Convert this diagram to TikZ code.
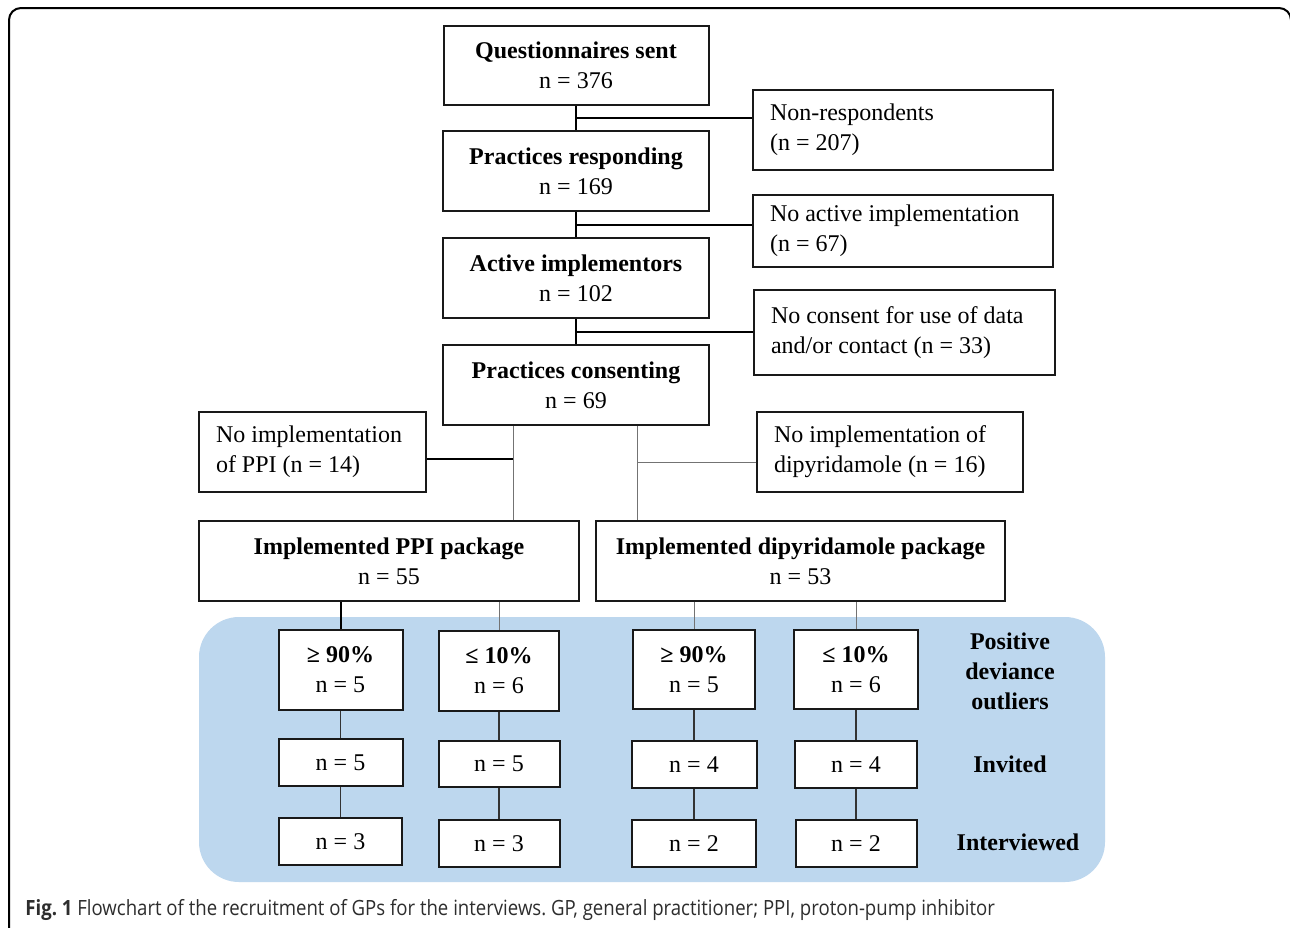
\documentclass[tikz,border=0pt]{standalone}
\usepackage{fontspec}
\setmainfont{Liberation Serif}
\newfontfamily\captionfont[FakeStretch=0.885]{Open Sans}
\usetikzlibrary{calc}

\definecolor{panelblue}{RGB}{189,215,238}
\definecolor{captiongray}{RGB}{45,45,45}

\tikzset{
  box/.style={rectangle, draw=black!90, line width=1pt, fill=white, inner sep=0pt,
    align=center, font=\fontsize{12}{15}\selectfont},
  sidebox/.style={box, align=flush left, inner xsep=8.5pt},
  label/.style={align=center, font=\fontsize{12}{15}\selectfont\bfseries, inner sep=0pt},
  link/.style={line width=1pt},
  thinlink/.style={line width=0.5pt, draw=black!55},
  panellink/.style={line width=0.6pt, draw=black!80},
}

\begin{document}
\begin{tikzpicture}[x=0.5pt, y=-0.5pt]
        \useasboundingbox (0,0) rectangle (1290,927);
        \fill[white] (0,0) rectangle (1290,927);
        \draw[line width=1pt, rounded corners=6pt] (9,960) -- (9,8) -- (1291,8) -- (1291,960);

        % main column
        \node[box, minimum width=132.5pt, minimum height=39.5pt] (questionnaires) at(576,65.5){\textbf{Questionnaires sent}\\n = 376};
        \node[box, minimum width=133pt, minimum height=40pt] (practices-responding) at(576,171){\textbf{Practices responding}\\n = 169};
        \node[box, minimum width=133pt, minimum height=40pt] (active-implementors) at(576,278){\textbf{Active implementors}\\n = 102};
        \node[box, minimum width=133pt, minimum height=40pt] (practices-consenting) at(576,385){\textbf{Practices consenting}\\n = 69};

        % excluded
        \node[sidebox, text width=133pt, minimum height=40pt] (non-respondents) at(903,130){Non-respondents\\(n = 207)};
        \node[sidebox, text width=133pt, minimum height=36pt] (no-active) at(903,231){No active implementation\\(n = 67)};
        \node[sidebox, text width=133.5pt, minimum height=42.5pt] (no-consent) at(904.5,332.5){No consent for use of data\\and/or contact (n = 33)};
        \node[sidebox, text width=96.5pt, minimum height=40pt] (no-ppi) at(312.5,452){No implementation\\of PPI (n = 14)};
        \node[sidebox, text width=116pt, minimum height=40pt] (no-dip) at(890,452){No implementation of\\dipyridamole (n = 16)};

        % packages
        \node[box, minimum width=190pt, minimum height=40pt] (ppi-package) at(389,561){\textbf{Implemented PPI package}\\n = 55};
        \node[box, minimum width=204.5pt, minimum height=40pt] (dip-package) at(800.5,561){\textbf{Implemented dipyridamole package}\\n = 53};

        \fill[panelblue, rounded corners=20pt] (199,617) rectangle (1105,882);

        % outliers
        \node[box, minimum width=62pt, minimum height=40pt] (ppi-high) at(340.5,670){\textbf{≥ 90\%}\\n = 5};
        \node[box, minimum width=62pt, minimum height=23.5pt] (ppi-high-invited) at(340.5,762.5){n = 5};
        \node[box, minimum width=61.5pt, minimum height=23.5pt] (ppi-high-interviewed) at(340.5,841.5){n = 3};

        \node[box, minimum width=60pt, minimum height=40pt] (ppi-low) at(499,671){\textbf{≤ 10\%}\\n = 6};
        \node[box, minimum width=60.5pt, minimum height=23pt] (ppi-low-invited) at(499,764){n = 5};
        \node[box, minimum width=60.5pt, minimum height=23.5pt] (ppi-low-interviewed) at(499,843.5){n = 3};

        \node[box, minimum width=61pt, minimum height=39.5pt] (dip-high) at(694,669.5){\textbf{≥ 90\%}\\n = 5};
        \node[box, minimum width=62.5pt, minimum height=23.5pt] (dip-high-invited) at(694,764.5){n = 4};
        \node[box, minimum width=62pt, minimum height=23.5pt] (dip-high-interviewed) at(694,843.5){n = 2};

        \node[box, minimum width=62pt, minimum height=39.5pt] (dip-low) at(856,669.5){\textbf{≤ 10\%}\\n = 6};
        \node[box, minimum width=61pt, minimum height=23.5pt] (dip-low-invited) at(856,764.5){n = 4};
        \node[box, minimum width=60.5pt, minimum height=23.5pt] (dip-low-interviewed) at(856,843.5){n = 2};

        \node[label] (outliers) at(1010,671){Positive\\deviance\\outliers};
        \node[label] (invited) at(1010,764){Invited};
        \node[label] (interviewed) at(1018,842){Interviewed};

        % connectors
        \coordinate (j1) at ($(questionnaires.south)!.5!(practices-responding.north)$);
        \coordinate (j2) at ($(practices-responding.south)!.5!(active-implementors.north)$);
        \coordinate (j3) at ($(active-implementors.south)!.5!(practices-consenting.north)$);

        \draw[link] (questionnaires) -- (practices-responding);
        \draw[link] (j1) -- (j1 -| non-respondents.west);

        \draw[link] (practices-responding) -- (active-implementors);
        \draw[link] (j2) -- (j2 -| no-active.west);

        \draw[link] (active-implementors) -- (practices-consenting);
        \draw[link] (j3) -- (j3 -| no-consent.west);

        \coordinate (split-ppi) at (513,0);
        \coordinate (split-dip) at (637,0);
        \coordinate (no-ppi-out) at ([yshift=-3.5pt]no-ppi.east);
        \coordinate (no-dip-in) at ([yshift=-5pt]no-dip.west);

        \draw[thinlink] (practices-consenting.south -| split-ppi) -- (ppi-package.north -| split-ppi);
        \draw[link] (no-ppi-out) -- (no-ppi-out -| split-ppi);

        \draw[thinlink] (practices-consenting.south -| split-dip) -- (dip-package.north -| split-dip);
        \draw[thinlink] (no-dip-in) -- (no-dip-in -| split-dip);

        \draw[link] (ppi-package.south -| ppi-high.north) -- (ppi-high.north);
        \draw[thinlink] (ppi-package.south -| ppi-low.north) -- (ppi-low.north);
        \draw[thinlink] (dip-package.south -| dip-high.north) -- (dip-high.north);
        \draw[thinlink] (dip-package.south -| dip-low.north) -- (dip-low.north);

        \draw[panellink] (ppi-high) -- (ppi-high-invited);
        \draw[panellink] (ppi-high-invited) -- (ppi-high-interviewed);
        \draw[panellink] (ppi-low) -- (ppi-low-invited);
        \draw[panellink] (ppi-low-invited) -- (ppi-low-interviewed);
        \draw[panellink] (dip-high) -- (dip-high-invited);
        \draw[panellink] (dip-high-invited) -- (dip-high-interviewed);
        \draw[panellink] (dip-low) -- (dip-low-invited);
        \draw[panellink] (dip-low-invited) -- (dip-low-interviewed);

        % caption
        \node[anchor=base west, inner sep=0pt, text=captiongray, font=\captionfont\fontsize{10.5}{12}\selectfont\frenchspacing] (caption) at(25,915){\textbf{Fig. 1} Flowchart of the recruitment of GPs for the interviews. GP, general practitioner; PPI, proton-pump inhibitor};

      \end{tikzpicture}
\end{document}
